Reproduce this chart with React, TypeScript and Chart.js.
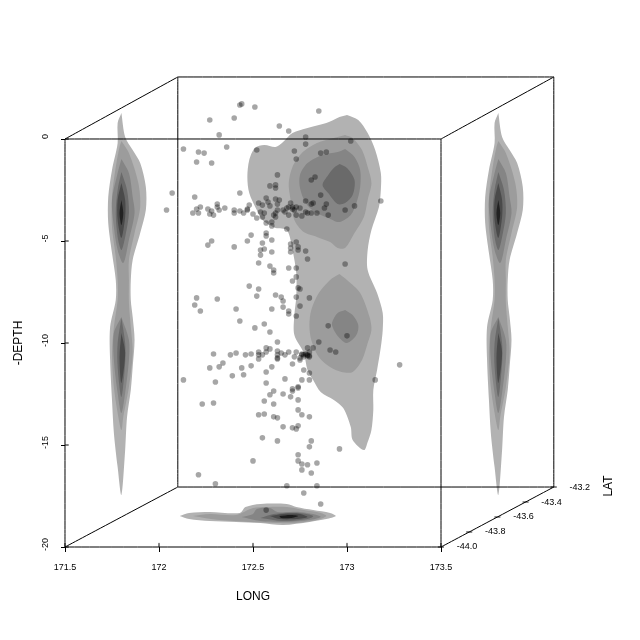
import React, { useEffect, useRef } from "react";
import Chart from "chart.js/auto";

const FONT = "'Liberation Sans', Arial, sans-serif";
const latTicks = [-44.0, -43.8, -43.6, -43.4, -43.2];
const latTickLabels = ["-44.0", "-43.8", "-43.6", "-43.4", "-43.2"];

// earthquake epicentres, in the front face's LONG / -DEPTH units
const quakeLong = [
  172.44,172.43,172.51,172.27,172.4,172.64,172.69,172.32,172.36,172.13,172.21,172.24,172.52,172.2,172.28,172.63,172.59,172.62,172.62,172.07,
  172.43,172.19,172.04,172.2,172.22,172.18,172.21,172.26,172.28,172.27,172.29,172.31,172.31,172.32,172.35,172.4,172.43,172.4,172.45,172.48,
  172.47,172.5,172.52,172.85,172.78,172.78,173.02,172.72,172.86,172.89,172.73,172.83,172.81,172.86,173.18,173.04,172.99,172.78,172.82,172.81,
  172.89,172.88,172.9,172.53,172.57,172.58,172.62,172.64,172.55,172.59,172.63,172.47,172.54,172.56,172.55,172.61,172.62,172.6,172.57,172.6,
  172.62,172.63,172.66,172.68,172.7,172.71,172.73,172.75,172.69,172.71,172.72,172.67,172.69,172.73,172.76,172.78,172.79,172.81,172.84,172.68,
  172.57,172.57,172.49,172.47,172.6,172.55,172.73,172.74,172.7,172.7,172.7,172.74,172.78,172.54,172.56,172.6,172.54,172.79,172.53,172.59,
  172.69,172.73,172.61,172.61,172.99,172.28,172.26,172.4,172.48,172.53,172.73,172.71,172.74,172.52,172.2,172.31,172.19,172.22,172.41,172.43,
  172.62,172.65,172.66,172.73,172.75,172.8,172.75,172.66,172.6,172.69,172.69,172.73,172.56,172.51,172.59,172.9,172.85,172.63,173.0,172.29,
  172.38,172.41,172.46,172.49,172.53,172.53,172.53,172.55,172.57,172.57,172.59,172.63,172.63,172.63,172.65,172.67,172.69,172.73,172.72,172.75,
  172.76,172.77,172.79,172.8,172.8,172.82,172.79,172.71,172.63,172.75,172.76,172.78,172.79,172.8,172.77,172.91,172.94,172.34,172.32,172.27,
  172.44,172.49,172.6,172.57,172.77,172.8,172.39,172.45,172.13,172.3,172.67,172.76,172.8,172.57,172.74,172.71,172.61,172.59,172.66,172.71,
  172.74,172.7,172.74,172.56,172.61,172.23,172.29,172.74,172.76,172.8,172.53,172.56,172.61,172.63,172.66,172.71,172.73,172.74,172.55,172.63,
  172.81,172.8,172.96,172.74,172.74,172.76,172.79,172.84,172.76,172.81,172.5,172.21,172.3,172.68,172.84,172.77,173.15,173.28,172.57,172.86,
];
const quakeDepth = [
  1.72,1.67,1.57,0.93,1.03,0.64,0.39,0.2,-0.39,-0.49,-0.64,-0.69,-0.54,-1.13,-1.18,-1.76,-2.3,-2.25,-2.4,-2.65,
  -2.65,-2.84,-3.48,-3.43,-3.33,-3.63,-3.63,-3.43,-3.53,-3.68,-3.73,-3.19,-3.33,-3.48,-3.38,-3.48,-3.53,-3.63,-3.63,-3.24,
  -3.43,-3.68,-3.87,1.37,0.1,-0.25,-0.1,-0.59,-0.69,-0.64,-0.98,-1.86,-2.01,-2.75,-3.04,-3.28,-3.48,-3.04,-3.14,-3.19,
  -3.19,-3.38,-3.73,-3.14,-2.89,-3.09,-2.94,-2.99,-3.24,-3.28,-3.19,-3.48,-3.58,-3.63,-3.82,-3.73,-3.63,-4.07,-4.12,-4.26,
  -3.82,-3.48,-3.48,-3.38,-3.14,-3.33,-3.33,-3.38,-3.33,-3.43,-3.48,-3.58,-3.73,-3.73,-3.77,-3.58,-3.63,-3.63,-3.63,-4.41,
  -4.61,-4.75,-4.71,-5.0,-4.95,-5.1,-5.05,-5.29,-5.15,-5.34,-5.54,-5.44,-5.49,-5.44,-5.39,-5.54,-5.69,-5.88,-6.08,-6.23,
  -6.32,-6.32,-6.42,-6.57,-6.13,-5.0,-5.2,-5.29,-7.21,-7.35,-6.76,-6.96,-7.3,-7.7,-7.79,-7.84,-8.14,-8.43,-8.33,-8.92,
  -7.65,-7.75,-7.94,-7.75,-7.35,-7.79,-8.19,-8.24,-8.33,-8.43,-8.58,-8.68,-9.07,-9.26,-9.46,-9.16,-9.95,-9.95,-9.65,-10.54,
  -10.58,-10.49,-10.58,-10.54,-10.44,-10.58,-10.78,-10.58,-10.24,-10.44,-10.29,-10.39,-10.58,-10.73,-10.49,-10.58,-10.44,-10.44,-10.68,-10.83,
  -10.54,-10.58,-10.63,-10.63,-10.44,-10.24,-10.24,-11.03,-10.78,-10.73,-10.58,-10.54,-10.58,-10.68,-10.68,-10.34,-10.44,-10.98,-11.17,-11.22,
  -11.22,-11.12,-11.17,-11.42,-11.32,-11.47,-11.61,-11.56,-11.81,-11.91,-11.76,-11.81,-11.81,-11.96,-12.15,-12.25,-12.35,-12.54,-12.5,-12.35,
  -12.2,-12.64,-12.79,-12.84,-12.99,-12.99,-12.94,-13.28,-13.52,-13.62,-13.52,-13.48,-13.62,-13.67,-14.11,-14.16,-14.21,-14.06,-14.65,-14.8,
  -14.8,-15.09,-15.19,-15.48,-15.78,-15.93,-15.97,-15.88,-16.22,-16.37,-15.78,-16.46,-16.9,-17.0,-17.0,-17.35,-11.81,-11.07,-18.19,-17.89,
];

// LONG / DEPTH density contours
const outerLong = [173.0,173.06,173.11,173.15,173.18,173.18,173.17,173.13,173.11,173.11,173.16,173.19,173.19,173.18,173.16,173.14,173.14,173.13,173.11,173.09,173.03,173.02,172.98,172.93,172.86,172.82,172.79,172.77,172.72,172.72,172.73,172.73,172.71,172.68,172.62,172.55,172.52,172.48,172.47,172.48,172.51,172.56,172.62,172.66,172.71,172.79,172.89,172.96];
const outerDepth = [1.18,0.93,0.29,-0.54,-1.67,-2.5,-3.33,-4.46,-5.44,-6.42,-7.55,-8.53,-9.36,-10.2,-11.32,-12.3,-13.28,-14.26,-14.85,-15.25,-14.75,-14.12,-13.19,-12.79,-12.4,-11.81,-11.32,-10.49,-9.61,-8.63,-7.75,-6.57,-5.44,-4.46,-4.36,-3.97,-3.48,-2.65,-1.86,-1.03,-0.44,-0.29,-0.39,-0.15,0.29,0.54,0.78,1.08];
const midUpperLong = [172.99,173.03,173.08,173.11,173.13,173.11,173.09,173.04,172.99,172.95,172.91,172.84,172.77,172.72,172.7,172.69,172.71,172.76,172.84,172.93];
const midUpperDepth = [0.2,0.05,-0.54,-1.37,-2.16,-2.99,-3.82,-4.61,-5.34,-5.34,-5.05,-4.8,-4.56,-3.97,-2.99,-2.16,-1.37,-0.69,-0.2,0.05];
const midLowerLong = [172.96,173.0,173.07,173.12,173.13,173.11,173.08,173.03,172.97,172.91,172.85,172.81,172.8,172.81,172.85,172.91];
const midLowerDepth = [-6.62,-6.91,-7.55,-8.73,-9.36,-10.0,-10.83,-11.42,-11.42,-11.18,-10.69,-9.85,-9.12,-8.38,-7.55,-6.91];
const highUpperLong = [172.99,173.04,173.07,173.07,173.05,173.02,172.96,172.9,172.83,172.78,172.75,172.75,172.79,172.87,172.95];
const highUpperDepth = [-0.49,-0.88,-1.52,-2.35,-3.14,-3.73,-4.07,-3.87,-3.58,-3.14,-2.4,-1.76,-1.18,-0.78,-0.64];
const highLowerLong = [172.99,173.03,173.06,173.05,173.0,172.96,172.93,172.92,172.95];
const highLowerDepth = [-8.38,-8.63,-9.12,-9.61,-10.0,-9.75,-9.36,-9.02,-8.53];
const peakLong = [172.96,173.0,173.04,173.03,172.99,172.95,172.9,172.87,172.9,172.93];
const peakDepth = [-1.23,-1.42,-2.01,-2.75,-3.14,-3.19,-2.65,-2.25,-1.76,-1.42];

// Wall density (seen on both side walls)
const rightWallShift = 2.005;
const wallA_Long = [171.8,171.82,171.86,171.9,171.93,171.93,171.9,171.86,171.85,171.85,171.86,171.87,171.86,171.85,171.83,171.82,171.8,171.78,171.76,171.75,171.74,171.74,171.77,171.77,171.75,171.73,171.73,171.75,171.78,171.78];
const wallA_Depth = [1.27,0.1,-0.54,-1.18,-2.35,-3.48,-4.61,-5.93,-6.91,-7.89,-8.73,-9.85,-11.18,-12.3,-13.63,-15.25,-17.45,-16.08,-14.41,-12.79,-10.83,-9.22,-7.89,-6.91,-5.59,-4.12,-2.84,-1.52,-0.2,0.78];
const wallB_Long = [171.8,171.84,171.89,171.9,171.87,171.84,171.84,171.84,171.85,171.86,171.84,171.81,171.8,171.78,171.76,171.75,171.76,171.78,171.78,171.77,171.75,171.75,171.77,171.79];
const wallB_Depth = [-0.1,-0.69,-2.16,-3.33,-4.61,-5.93,-6.91,-8.04,-9.22,-10.49,-12.16,-13.63,-14.27,-13.43,-12.16,-10.49,-9.22,-7.89,-6.91,-5.78,-4.31,-2.84,-1.37,-0.39];
const wallC1_Long = [171.8,171.84,171.86,171.87,171.84,171.81,171.78,171.76,171.75,171.78];
const wallC1_Depth = [-0.98,-1.67,-2.84,-3.63,-4.95,-6.08,-5.44,-4.31,-2.99,-1.67];
const wallC2_Long = [171.8,171.84,171.84,171.82,171.8,171.78,171.76,171.76];
const wallC2_Depth = [-8.73,-9.85,-10.83,-12.45,-13.43,-12.45,-10.83,-9.51];
const wallD1_Long = [171.8,171.83,171.84,171.82,171.8,171.78,171.77,171.78];
const wallD1_Depth = [-1.62,-2.5,-3.63,-4.8,-5.44,-4.8,-3.63,-2.5];
const wallD2_Long = [171.8,171.82,171.82,171.8,171.78,171.78];
const wallD2_Depth = [-8.77,-10.0,-10.98,-12.65,-11.18,-10.0];
const wallE1_Long = [171.8,171.82,171.82,171.8,171.78,171.78];
const wallE1_Depth = [-2.16,-2.99,-3.82,-4.85,-3.97,-2.99];
const wallE2_Long = [171.8,171.82,171.8,171.79];
const wallE2_Depth = [-9.51,-10.49,-11.96,-10.69];
const wallF_Long = [171.8,171.81,171.8,171.79];
const wallF_Depth = [-2.99,-3.63,-4.22,-3.63];

// Floor density
const floorA_Long = [172.11,172.16,172.27,172.43,172.46,172.54,172.68,172.73,172.82,172.91,172.94,172.89,172.8,172.66,172.54,172.41,172.27,172.16];
const floorA_Depth = [-18.48,-18.33,-18.28,-18.33,-18.04,-17.89,-17.89,-18.04,-18.19,-18.33,-18.48,-18.63,-18.77,-18.92,-18.82,-18.77,-18.73,-18.63];
const floorB_Long = [172.18,172.27,172.41,172.5,172.57,172.68,172.77,172.86,172.89,172.84,172.73,172.63,172.48,172.32];
const floorB_Depth = [-18.48,-18.38,-18.43,-18.09,-18.04,-18.04,-18.19,-18.33,-18.48,-18.68,-18.82,-18.82,-18.77,-18.68];
const floorC_Long = [172.44,172.5,172.52,172.59,172.63,172.75,172.84,172.86,172.8,172.68,172.54];
const floorC_Depth = [-18.53,-18.38,-18.14,-18.09,-18.28,-18.28,-18.43,-18.53,-18.68,-18.77,-18.73];
const floorD_Long = [172.54,172.61,172.75,172.82,172.79,172.66];
const floorD_Depth = [-18.58,-18.38,-18.33,-18.48,-18.63,-18.73];
const floorE_Long = [172.59,172.66,172.75,172.79,172.73,172.64];
const floorE_Depth = [-18.48,-18.38,-18.38,-18.53,-18.63,-18.63];
const floorF_Long = [172.64,172.7,172.74,172.7,172.65];
const floorF_Depth = [-18.48,-18.43,-18.48,-18.58,-18.58];

// Wire box
const boxLong = [171.5,173.5,173.5,171.5,171.5,NaN,172.1,174.1,174.1,172.1,172.1,NaN,171.5,172.1,NaN,173.5,174.1,NaN,171.5,172.1,NaN,173.5,174.1];
const boxDepth = [0,0,-20,-20,0,NaN,3.04,3.04,-17.06,-17.06,3.04,NaN,0,3.04,NaN,0,3.04,NaN,-20,-17.06,NaN,-20,-17.06];
const xTickValues = [171.5, 172, 172.5, 173, 173.5];
const yTickValues = [-20, -15, -10, -5, 0];
const latLong = (lat: number) => 173.5 + (lat + 44) * 0.75;
const latDepth = (lat: number) => -20 + (lat + 44) * 3.675;

const zip = (xs: number[], ys: number[]) => xs.map((x, i) => ({ x, y: ys[i] }));
const closed = (xs: number[], ys: number[]) => {
  const p = zip(xs, ys);
  p.push(p[0]);
  return p;
};
const shape = (data: { x: number; y: number }[], color: string) => ({
  type: "scatter" as const,
  data,
  showLine: true,
  fill: "shape",
  backgroundColor: color,
  borderWidth: 0,
  pointRadius: 0,
  tension: 0.3,
  clip: false,
});
const shift = (p: { x: number; y: number }[]) => p.map((q) => ({ x: q.x + rightWallShift, y: q.y }));

const G1 = "#b2b2b2", G2 = "#9c9c9c", G3 = "#858585", G4 = "#6a6a6a", G5 = "#4a4a4a", G6 = "#222222";

const wall = [
  [closed(wallF_Long, wallF_Depth), G6],
  [closed(wallE1_Long, wallE1_Depth), G5],
  [closed(wallE2_Long, wallE2_Depth), G5],
  [closed(wallD1_Long, wallD1_Depth), G4],
  [closed(wallD2_Long, wallD2_Depth), G4],
  [closed(wallC1_Long, wallC1_Depth), G3],
  [closed(wallC2_Long, wallC2_Depth), G3],
  [closed(wallB_Long, wallB_Depth), G2],
  [closed(wallA_Long, wallA_Depth), G1],
] as [{ x: number; y: number }[], string][];

const areaHack = {
  id: "wholeCanvasDatasets",
  beforeDatasetsDraw(chart: any) {
    chart.$area = chart.chartArea;
    chart.chartArea = { left: 0, top: 0, right: 640, bottom: 640, width: 640, height: 640 };
  },
  afterDatasetsDraw(chart: any) {
    chart.chartArea = chart.$area;
  },
};

const latLabels = {
  id: "latLabels",
  afterDraw(chart: any) {
    const { ctx, scales } = chart;
    ctx.save();
    ctx.fillStyle = "#000";
    ctx.textAlign = "center";
    ctx.textBaseline = "middle";
    ctx.font = `9px ${FONT}`;
    latTicks.forEach((lat, i) => {
      ctx.fillText(latTickLabels[i], scales.x.getPixelForValue(latLong(lat)) + 26, scales.y.getPixelForValue(latDepth(lat)));
    });
    ctx.font = `12px ${FONT}`;
    ctx.translate(609, 486);
    ctx.rotate(-Math.PI / 2);
    ctx.fillText("LAT", 0, 0);
    ctx.restore();
  },
};

export default function App() {
  const ref = useRef<HTMLCanvasElement>(null);
  useEffect(() => {
    const latSegments: any[] = [];
    latTicks.forEach((lat) => {
      latSegments.push({ x: latLong(lat) - 0.016, y: latDepth(lat) }, { x: latLong(lat) + 0.016, y: latDepth(lat) }, { x: NaN, y: NaN });
    });
    const innerTicks: any[] = [];
    xTickValues.forEach((v) => {
      innerTicks.push({ x: v, y: -20 }, { x: v, y: -19.8 }, { x: NaN, y: NaN });
    });
    yTickValues.forEach((v) => {
      innerTicks.push({ x: 171.5, y: v }, { x: 171.52, y: v }, { x: NaN, y: NaN });
    });
    const lineSet = (data: any[]) => ({
      type: "scatter" as const,
      data,
      showLine: true,
      fill: false,
      borderColor: "#000",
      borderWidth: 1,
      pointRadius: 0,
      tension: 0.000001,
      spanGaps: false,
      clip: false,
    });
    const chart = new Chart(ref.current!, {
      type: "scatter",
      data: {
        datasets: [
          {
            data: zip(quakeLong, quakeDepth),
            backgroundColor: "rgba(0,0,0,0.35)",
            borderWidth: 0,
            pointRadius: 2.8,
            pointHoverRadius: 2.8,
            clip: false,
          },
          lineSet(zip(boxLong, boxDepth)),
          lineSet(latSegments),
          lineSet(innerTicks),
          shape(closed(peakLong, peakDepth), G4),
          shape(closed(highUpperLong, highUpperDepth), G3),
          shape(closed(highLowerLong, highLowerDepth), G3),
          shape(closed(midUpperLong, midUpperDepth), G2),
          shape(closed(midLowerLong, midLowerDepth), G2),
          shape(closed(outerLong, outerDepth), G1),
          ...wall.map(([p, c]) => shape(p, c)),
          ...wall.map(([p, c]) => shape(shift(p), c)),
          shape(closed(floorF_Long, floorF_Depth), "#1c1c1c"),
          shape(closed(floorE_Long, floorE_Depth), G5),
          shape(closed(floorD_Long, floorD_Depth), G4),
          shape(closed(floorC_Long, floorC_Depth), G3),
          shape(closed(floorB_Long, floorB_Depth), G2),
          shape(closed(floorA_Long, floorA_Depth), G1),
        ] as any,
      },
      options: {
        responsive: false,
        animation: false,
        events: [],
        layout: { padding: { top: 139, right: 199, left: 0, bottom: 0 } },
        elements: { line: { capBezierPoints: false } },
        plugins: { legend: { display: false }, tooltip: { enabled: false } },
        scales: {
          x: {
            type: "linear",
            position: "bottom",
            min: 171.5,
            max: 173.5,
            afterFit: (s: any) => { s.height = 93; s.paddingLeft = 0; s.paddingRight = 0; },
            ticks: {
              stepSize: 0.5,
              autoSkip: false,
              maxRotation: 0,
              padding: 10,
              color: "#000",
              font: { family: FONT, size: 9 },
              callback: (v: any) => String(v),
            },
            grid: { drawOnChartArea: false, drawTicks: true, tickLength: 5, color: "#000" },
            border: { display: false },
            title: { display: true, text: "LONG", color: "#000", font: { family: FONT, size: 12 }, padding: { top: 0, bottom: 36 } },
          },
          y: {
            type: "linear",
            position: "left",
            min: -20,
            max: 0,
            afterFit: (s: any) => { s.width = 65; s.paddingTop = 0; s.paddingBottom = 0; },
            ticks: {
              stepSize: 5,
              autoSkip: false,
              minRotation: 90,
              maxRotation: 90,
              crossAlign: "center",
              labelOffset: -2.5,
              padding: 9,
              color: "#000",
              font: { family: FONT, size: 9 },
              callback: (v: any) => String(v),
            },
            grid: { drawOnChartArea: false, drawTicks: true, tickLength: 4, color: "#000" },
            border: { display: false },
            title: { display: true, text: "-DEPTH", color: "#000", font: { family: FONT, size: 12 }, padding: { top: 11.8, bottom: 0 } },
          },
        },
      },
      plugins: [areaHack, latLabels],
    } as any);
    return () => chart.destroy();
  }, []);
  return (
    <div style={{ position: "absolute", left: 0, top: 0, width: 640, height: 640, background: "#fff" }}>
      <canvas ref={ref} width={640} height={640} style={{ display: "block" }} />
    </div>
  );
}
